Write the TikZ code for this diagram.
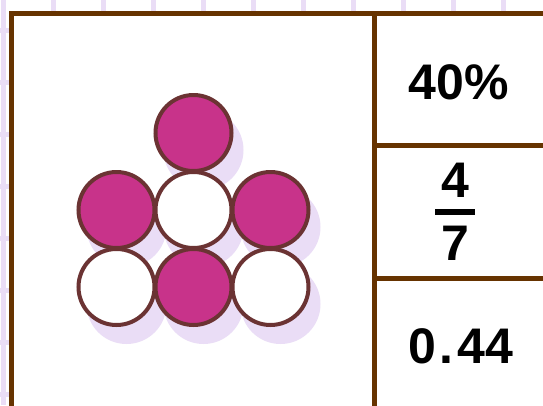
\documentclass[tikz,border=0pt]{standalone}
\usepackage{fontspec}
\setmainfont{Liberation Sans}
\usepackage{tikz}
\usetikzlibrary{positioning,calc}
\definecolor{frame}{HTML}{663300}
\definecolor{beadline}{HTML}{6B3333}
\definecolor{beadpink}{HTML}{C8338A}
\definecolor{lav}{HTML}{EADDF6}
\begin{document}
\begin{tikzpicture}[x=1pt,y=-1pt,
  bead/.style={circle,draw=beadline,line width=4pt,minimum size=76pt,inner sep=0pt},
  on/.style={bead,fill=beadpink},
  off/.style={bead,fill=white},
  shadowbead/.style={circle,fill=lav,minimum size=80pt,inner sep=0pt},
  val/.style={font=\bfseries\fontsize{50}{50}\selectfont,inner sep=0pt}]
\useasboundingbox (0,0) rectangle (543,405);
% grid behind the card
\foreach \i in {0,...,10} \draw[lav,line width=5pt] (3+50*\i,0) -- (3+50*\i,405);
\foreach \j in {0,...,7} \draw[lav,line width=5pt] (0,30+52*\j) -- (543,30+52*\j);
% card
\draw[frame,line width=5pt,fill=white] (11,13) rectangle (560,420);
\draw[frame,line width=5pt] (374.5,13) -- (374.5,420);
\draw[frame,line width=5pt] (374.5,145) -- (560,145);
\draw[frame,line width=5pt] (374.5,278) -- (560,278);
% beads: shadows first
\foreach \x/\y in {193.5/133,116.5/210,193.5/210,270.5/210,116.5/287,193.5/287,270.5/287}
  \node[shadowbead] at (\x+10,\y+17) {};
\node[on] (t) at (193.5,133) {};
\node[on] (ml) at (116.5,210) {};
\node[off] (mc) at (193.5,210) {};
\node[on] (mr) at (270.5,210) {};
\node[off] (bl) at (116.5,287) {};
\node[on] (bc) at (193.5,287) {};
\node[off] (br) at (270.5,287) {};
% values
\node[val] (pct) at (459,82) {40\%};
\node[val] (num) at (455,180) {4};
\node[val] (den) at (455,243) {7};
\draw[line width=6pt] ($(num)!0.5!(den)+(-20,0)$) -- ($(num)!0.5!(den)+(20,0)$);
\node[val] (dec) at (461,346) {0\kern3pt.\kern4pt44};
\end{tikzpicture}
\end{document}
